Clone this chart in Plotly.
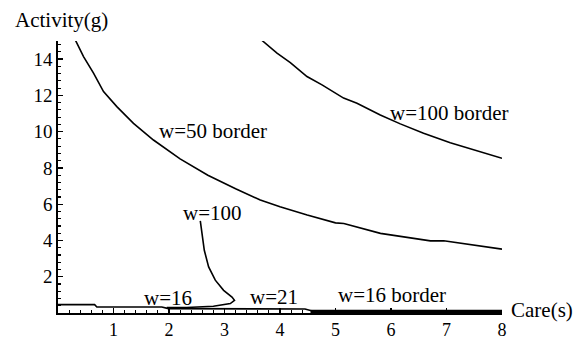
import plotly.graph_objects as go

# w=50 border curve
w50b_x = [0.31, 0.46, 0.64, 0.82, 1.06, 1.36, 1.72, 2.2, 2.7, 3.2, 3.645, 4.0, 4.49, 5.0, 5.15, 5.81, 6.71, 6.95, 8.0]
w50b_y = [15.07, 14.14, 13.23, 12.21, 11.38, 10.46, 9.54, 8.5, 7.6, 6.85, 6.23, 5.86, 5.40, 4.97, 4.94, 4.39, 3.98, 3.98, 3.52]

# w=100 border curve
w100b_x = [3.676, 3.946, 4.186, 4.486, 4.757, 5.146, 5.387, 5.807, 6.168, 6.587, 7.068, 7.488, 8.0]
w100b_y = [15.03, 14.33, 13.81, 13.04, 12.58, 11.85, 11.57, 10.92, 10.43, 9.91, 9.39, 8.99, 8.53]

# w=100 loop
w100_x = [2.564, 2.595, 2.636, 2.714, 2.834, 2.984, 3.135, 3.18, 3.105, 2.80, 2.32, 1.96]
w100_y = [5.08, 4.39, 3.46, 2.54, 1.81, 1.25, 0.88, 0.70, 0.52, 0.37, 0.30, 0.30]

# w=16 line
w16_x = [0.0, 0.66, 0.70, 1.87, 1.99]
w16_y = [0.46, 0.46, 0.33, 0.33, 0.24]

# w=21 line
w21_x = [1.99, 3.0, 4.2, 4.45, 4.6]
w21_y = [0.24, 0.24, 0.26, 0.22, 0.10]

# w=16 border (thick line along axis)
w16b_x = [4.55, 8.0]
w16b_y = [0.09, 0.09]

x_ticks = [1, 2, 3, 4, 5, 6, 7, 8]
y_ticks = [2, 4, 6, 8, 10, 12, 14]

labels = ["w=50 border", "w=100 border", "w=100", "w=16", "w=21", "w=16 border"]
label_x = [2.79, 7.05, 2.79, 1.98, 3.885, 6.02]
label_y = [10.04, 11.03, 5.51, 0.84, 0.87, 0.98]

FONT = "Liberation Serif"

fig = go.Figure()
for xs, ys, w in [(w50b_x, w50b_y, 1.6), (w100b_x, w100b_y, 1.6), (w100_x, w100_y, 1.6),
                  (w16_x, w16_y, 1.6), (w21_x, w21_y, 1.6), (w16b_x, w16b_y, 3.2)]:
    fig.add_trace(go.Scatter(x=xs, y=ys, mode="lines", line=dict(color="black", width=w),
                             showlegend=False, hoverinfo="skip", cliponaxis=False))

for t, lx, ly in zip(labels, label_x, label_y):
    fig.add_annotation(x=lx, y=ly, text=t, showarrow=False, xanchor="center", yanchor="middle",
                       font=dict(family=FONT, size=21, color="black"))

# axis titles (paper coords, Mathematica-style placement)
fig.add_annotation(xref="paper", yref="paper", x=-0.101, y=1.079, text="Activity(g)",
                   showarrow=False, xanchor="left", yanchor="middle",
                   font=dict(family=FONT, size=21, color="black"))
fig.add_annotation(xref="paper", yref="paper", x=1.015, y=0.01, text="Care(s)",
                   showarrow=False, xanchor="left", yanchor="middle",
                   font=dict(family=FONT, size=21, color="black"))

fig.update_layout(
    width=577, height=341, autosize=False,
    margin=dict(l=58, r=75, t=41, b=28, pad=0),
    paper_bgcolor="white", plot_bgcolor="white",
    font=dict(family=FONT, size=20, color="black"),
    showlegend=False,
)
fig.update_xaxes(range=[0, 8], tickmode="array", tickvals=x_ticks, ticktext=[str(v) for v in x_ticks],
                 automargin=False,
                 showgrid=False, zeroline=False, showline=True, linecolor="black", linewidth=1.6,
                 ticks="inside", ticklen=5, tickwidth=1.3, tickcolor="black", ticklabelstandoff=0,
                 minor=dict(tickmode="linear", tick0=0, dtick=0.2, ticks="inside", ticklen=3,
                            tickwidth=1.1, tickcolor="black", showgrid=False),
                 tickfont=dict(family=FONT, size=18, color="black"))
fig.update_yaxes(range=[0, 15], tickmode="array", tickvals=y_ticks, ticktext=[str(v) for v in y_ticks],
                 automargin=False,
                 showgrid=False, zeroline=False, showline=True, linecolor="black", linewidth=1.6,
                 ticks="inside", ticklen=5, tickwidth=1.3, tickcolor="black", ticklabelstandoff=0,
                 minor=dict(tickmode="linear", tick0=0, dtick=0.4, ticks="inside", ticklen=3,
                            tickwidth=1.1, tickcolor="black", showgrid=False),
                 tickfont=dict(family=FONT, size=19, color="black"))

fig.write_html("out.html", config={"displayModeBar": False, "staticPlot": True},
               post_script="document.body.style.margin='0';document.body.style.overflow='hidden';")
